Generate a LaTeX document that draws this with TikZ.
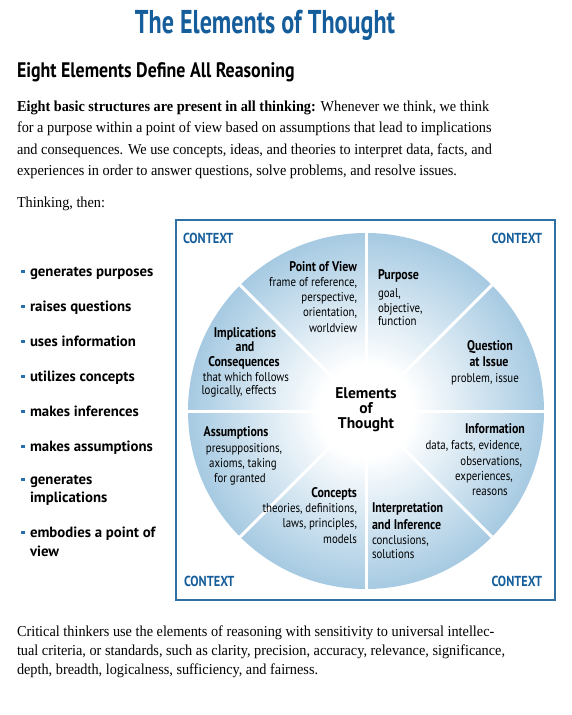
\documentclass[tikz,border=0pt]{standalone}
\usepackage{fontspec}
\usetikzlibrary{calc}
\setmainfont[FakeStretch=0.94]{Liberation Serif}
\newfontfamily\condf[FakeStretch=0.85]{PT Sans}
\newfontfamily\titlef[FakeStretch=0.73]{PT Sans}
\newfontfamily\sansf{PT Sans}
\definecolor{titleblue}{RGB}{22,94,155}
\definecolor{boxblue}{RGB}{48,112,162}
\definecolor{edgeblue}{RGB}{166,202,226}
\definecolor{bulletblue}{RGB}{40,110,170}
\pgfdeclareradialshading{eltshade}{\pgfpoint{0bp}{0bp}}{color(0bp)=(white); color(6.5bp)=(white); color(25bp)=(edgeblue); color(50bp)=(edgeblue)}
\begin{document}
\begin{tikzpicture}[x=1pt,y=-1pt,
  every node/.style={inner sep=0pt,outer sep=0pt},
  titlestyle/.style={font=\titlef\bfseries\fontsize{33}{36}\selectfont,text=titleblue},
  substyle/.style={font=\condf\bfseries\fontsize{21}{24}\selectfont},
  bodystyle/.style={font=\fontsize{15.2}{20}\selectfont},
  liststyle/.style={font=\sansf\bfseries\fontsize{14.8}{17}\selectfont},
  bulletsq/.style={fill=bulletblue,minimum size=3.6pt},
  ctx/.style={font=\condf\bfseries\fontsize{14.5}{15}\selectfont,text=titleblue},
  elhead/.style={font=\condf\bfseries\fontsize{14}{15}\selectfont},
  eltext/.style={font=\condf\fontsize{12.8}{15}\selectfont},
  center/.style={font=\sansf\bfseries\fontsize{15.5}{15}\selectfont},
  divider/.style={white,line width=3pt}
]
\useasboundingbox (0,0) rectangle (571,715);
\fill[white] (0,0) rectangle (571,715);

% titles
\node[titlestyle,anchor=base] (title) at (265,33) {The Elements of Thought};
\node[substyle,anchor=base west] (subtitle) at (17,77) {Eight Elements Define All Reasoning};

% intro paragraph
\node[bodystyle,anchor=base west] (p1) at (17,111) {\textbf{Eight basic structures are present in all thinking:} Whenever we think, we think};
\node[bodystyle,anchor=base west] (p2) at (17,132) {for a purpose within a point of view based on assumptions that lead to implications};
\node[bodystyle,anchor=base west] (p3) at (17,154) {and consequences. We use concepts, ideas, and theories to interpret data, facts, and};
\node[bodystyle,anchor=base west] (p4) at (17,175) {experiences in order to answer questions, solve problems, and resolve issues.};
\node[bodystyle,anchor=base west] (p5) at (17,207) {Thinking, then:};

% list
\foreach \name/\yy/\txt in {l1/276/generates purposes, l2/311/raises questions, l3/346/uses information, l4/381/utilizes concepts, l5/416/makes inferences, l6/451/makes assumptions, l7/484/generates, l9/537/embodies a point of}{
  \node[liststyle,anchor=base west] (\name) at (30,\yy) {\txt};
  \node[bulletsq] (\name b) at (23,\yy-4.5) {};
}
\node[liststyle,anchor=base west] (l8) at (30,502) {implications};
\node[liststyle,anchor=base west] (l10) at (30,556) {view};

% box
\draw[boxblue,line width=1.8pt] (176,220) rectangle (555,600);

% circle
\coordinate (c) at (366,411);
\shade[shading=eltshade] (c) circle[radius=178];
\foreach \a in {0,45,...,315}{
  \draw[divider] ($(c)+(\a:34)$) -- ($(c)+(\a:178)$);
}

% context labels
\node[ctx,anchor=base west] (ctxtl) at (183,243) {CONTEXT};
\node[ctx,anchor=base east] (ctxtr) at (542,243) {CONTEXT};
\node[ctx,anchor=base west] (ctxbl) at (184,586) {CONTEXT};
\node[ctx,anchor=base east] (ctxbr) at (542,586) {CONTEXT};

% center
\node[center,anchor=base] (e1) at (366,398) {Elements};
\node[center,anchor=base] (e2) at (366,413) {of};
\node[center,anchor=base] (e3) at (366,428) {Thought};

% point of view
\node[elhead,anchor=base east] (pov1) at (357,271) {Point of View};
\node[eltext,anchor=base east] (pov2) at (357,286) {frame of reference,};
\node[eltext,anchor=base east] (pov3) at (357,301) {perspective,};
\node[eltext,anchor=base east] (pov4) at (357,316) {orientation,};
\node[eltext,anchor=base east] (pov5) at (357,332) {worldview};

% purpose
\node[elhead,anchor=base west] (pur1) at (378,279) {Purpose};
\node[eltext,anchor=base west] (pur2) at (378,297) {goal,};
\node[eltext,anchor=base west] (pur3) at (378,312) {objective,};
\node[eltext,anchor=base west] (pur4) at (378,325) {function};

% implications
\node[elhead,anchor=base] (imp1) at (245,337) {Implications};
\node[elhead,anchor=base] (imp2) at (245,351) {and};
\node[elhead,anchor=base] (imp3) at (244,366) {Consequences};
\node[eltext,anchor=base] (imp4) at (246,381) {that which follows};
\node[eltext,anchor=base] (imp5) at (239,394) {logically, effects};

% question
\node[elhead,anchor=base] (q1) at (490,350) {Question};
\node[elhead,anchor=base] (q2) at (489,366) {at Issue};
\node[eltext,anchor=base] (q3) at (485,382) {problem, issue};

% assumptions
\node[elhead,anchor=base] (as1) at (236,436) {Assumptions};
\node[eltext,anchor=base] (as2) at (244,452) {presuppositions,};
\node[eltext,anchor=base] (as3) at (243,467) {axioms, taking};
\node[eltext,anchor=base] (as4) at (240,482) {for granted};

% concepts
\node[elhead,anchor=base east] (con1) at (357,497) {Concepts};
\node[eltext,anchor=base east] (con2) at (357,512) {theories, definitions,};
\node[eltext,anchor=base east] (con3) at (357,527) {laws, principles,};
\node[eltext,anchor=base east] (con4) at (357,543) {models};

% interpretation
\node[elhead,anchor=base west] (int1) at (372,512) {Interpretation};
\node[elhead,anchor=base west] (int2) at (372,529) {and Inference};
\node[eltext,anchor=base west] (int3) at (372,544) {conclusions,};
\node[eltext,anchor=base west] (int4) at (372,558) {solutions};

% information
\node[elhead,anchor=base] (inf1) at (495,433) {Information};
\node[eltext,anchor=base east] (inf2) at (522,449) {data, facts, evidence,};
\node[eltext,anchor=base east] (inf3) at (522,465) {observations,};
\node[eltext,anchor=base] (inf4) at (484,480) {experiences,};
\node[eltext,anchor=base] (inf5) at (490,495) {reasons};

% closing paragraph
\node[bodystyle,anchor=base west] (q1p) at (17,636) {Critical thinkers use the elements of reasoning with sensitivity to universal intellec-};
\node[bodystyle,anchor=base west] (q2p) at (17,655) {tual criteria, or standards, such as clarity, precision, accuracy, relevance, significance,};
\node[bodystyle,anchor=base west] (q3p) at (17,674) {depth, breadth, logicalness, sufficiency, and fairness.};
\end{tikzpicture}
\end{document}
